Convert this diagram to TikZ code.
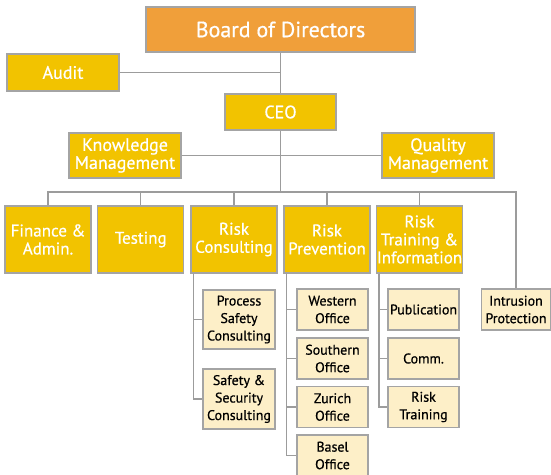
\documentclass[tikz,border=0pt]{standalone}
\usepackage{fontspec}
\setmainfont{PT Sans}[UprightFeatures={FakeBold=0.6}]
\definecolor{gold}{HTML}{F2C300}
\definecolor{orng}{HTML}{F09F3A}
\definecolor{pale}{HTML}{FDEFC8}
\definecolor{edge}{HTML}{A4A4A4}
\definecolor{wire}{HTML}{9C9C9C}
\begin{document}
\begin{tikzpicture}[x=1pt,y=-1pt,
  box/.style={draw=edge,line width=1.3pt,inner sep=0pt,align=center,text=white},
  top/.style={box,fill=orng,font=\fontsize{22}{24}\selectfont},
  lvl/.style={box,fill=gold,font=\fontsize{18}{18}\selectfont},
  dept/.style={box,fill=gold,font=\fontsize{17}{18}\selectfont,minimum width=86pt,minimum height=67pt},
  sub/.style={box,fill=pale,text=black,font=\fontsize{14}{17.5}\selectfont},
  wirel/.style={draw=wire,line width=1.3pt}]
\useasboundingbox (0,0) rectangle (551,474);
\node[top,minimum width=269pt,minimum height=45pt] (board) at (280.5,29.5) {Board of Directors};
\node[lvl,minimum width=112pt,minimum height=37pt] (audit) at (63,72.5) {Audit};
\node[lvl,minimum width=111pt,minimum height=36pt] (ceo) at (280.5,112) {CEO};
\node[lvl,minimum width=112pt,minimum height=45pt] (km) at (125,155.5) {Knowledge\\Management};
\node[lvl,minimum width=112pt,minimum height=45pt] (qm) at (438,155.5) {Quality\\Management};
\node[dept] (fin) at (48,239.5) {Finance \&\\Admin.};
\node[dept] (test) at (140.75,239.5) {Testing};
\node[dept] (rc) at (234,239.5) {Risk\\Consulting};
\node[dept] (rp) at (327,239.5) {Risk\\Prevention};
\node[dept] (rti) at (419.5,239.5) {Risk\\Training \&\\Information};
\node[sub,minimum width=69pt,minimum height=41pt] (intr) at (516,309.5) {Intrusion\\Protection};
\node[sub,minimum width=72pt,minimum height=59pt] (psc) at (239,319.5) {Process\\Safety\\Consulting};
\node[sub,minimum width=72pt,minimum height=60pt] (ssc) at (239,399) {Safety \&\\Security\\Consulting};
\node[sub,minimum width=71pt,minimum height=41pt] (west) at (332.5,309.5) {Western\\Office};
\node[sub,minimum width=71pt,minimum height=41pt] (south) at (332.5,358.5) {Southern\\Office};
\node[sub,minimum width=71pt,minimum height=41pt] (zur) at (332.5,407) {Zurich\\Office};
\node[sub,minimum width=71pt,minimum height=41pt] (bas) at (332.5,455.5) {Basel\\Office};
\node[sub,minimum width=71pt,minimum height=41pt] (pub) at (423.5,309.5) {Publication};
\node[sub,minimum width=71pt,minimum height=41pt] (comm) at (423.5,358.5) {Comm.};
\node[sub,minimum width=71pt,minimum height=41pt] (rtr) at (423.5,407) {Risk\\Training};
\coordinate (bus) at (280.5,192);
\draw[wirel] (board.south) -- (ceo.north);
\draw[wirel] (audit.east) -- (audit.east -| ceo.north);
\draw[wirel] (km.east) -- (qm.west);
\draw[wirel] (ceo.south) -- (bus);
\draw[wirel] (fin.north) |- (bus) -| (intr.north);
\foreach \n in {test,rc,rp,rti} \draw[wirel] (\n.north) -- (\n.north |- bus);
\draw[wirel] ([xshift=3pt]rc.south west) |- (psc.west);
\draw[wirel] ([xshift=3pt]rc.south west) |- (ssc.west);
\foreach \n in {west,south,zur,bas} \draw[wirel] ([xshift=3pt]rp.south west) |- (\n.west);
\foreach \n in {pub,comm,rtr} \draw[wirel] ([xshift=3pt]rti.south west) |- (\n.west);
\end{tikzpicture}
\end{document}
